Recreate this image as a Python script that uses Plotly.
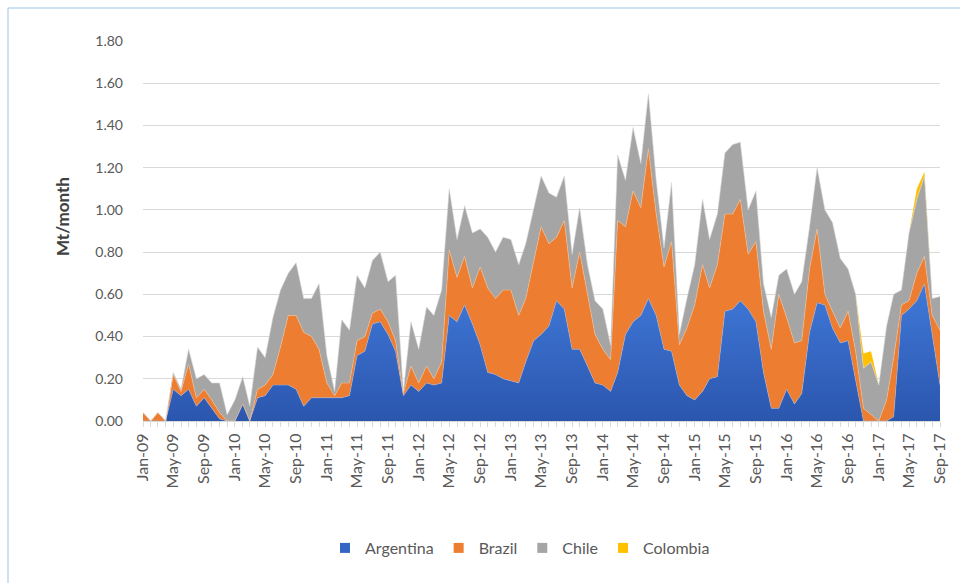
import plotly.graph_objects as go
import pandas as pd

# Categories: monthly, Jan-09 .. Sep-17
months = list(pd.date_range("2009-01-01", "2017-09-01", freq="MS"))
tick_months = months[::4]
tick_labels = [d.strftime("%b-%y") for d in tick_months]
y_title = "Mt/month"

# Series values (Mt/month)
argentina = [0, 0, 0, 0, 0.15, 0.12, 0.15, 0.07, 0.11, 0.06,
             0.01, 0, 0, 0.08, 0, 0.11, 0.12, 0.17, 0.17, 0.17,
             0.15, 0.07, 0.11, 0.11, 0.11, 0.11, 0.11, 0.12, 0.31, 0.33,
             0.46, 0.47, 0.41, 0.33, 0.12, 0.17, 0.14, 0.18, 0.17, 0.18,
             0.50, 0.47, 0.55, 0.46, 0.36, 0.23, 0.22, 0.20, 0.19, 0.18,
             0.28, 0.38, 0.41, 0.45, 0.57, 0.53, 0.34, 0.34, 0.26, 0.18,
             0.17, 0.14, 0.23, 0.41, 0.47, 0.50, 0.58, 0.50, 0.34, 0.33,
             0.17, 0.12, 0.10, 0.14, 0.20, 0.21, 0.52, 0.53, 0.57, 0.53,
             0.47, 0.23, 0.06, 0.06, 0.15, 0.08, 0.13, 0.42, 0.56, 0.55,
             0.44, 0.37, 0.38, 0.20, 0, 0, 0, 0, 0.02, 0.50,
             0.53, 0.57, 0.65, 0.40, 0.17]
brazil = [0.04, 0, 0.04, 0, 0.07, 0.02, 0.12, 0.04, 0.04, 0.04,
          0.03, 0, 0, 0, 0, 0.04, 0.05, 0.05, 0.18, 0.33,
          0.35, 0.35, 0.29, 0.23, 0.07, 0.01, 0.07, 0.06, 0.07, 0.07,
          0.05, 0.06, 0.06, 0.05, 0.01, 0.09, 0.04, 0.08, 0.03, 0.10,
          0.31, 0.21, 0.23, 0.17, 0.37, 0.40, 0.36, 0.42, 0.43, 0.32,
          0.30, 0.38, 0.51, 0.39, 0.30, 0.42, 0.29, 0.46, 0.34, 0.23,
          0.17, 0.15, 0.72, 0.51, 0.62, 0.51, 0.71, 0.48, 0.39, 0.52,
          0.19, 0.32, 0.45, 0.60, 0.43, 0.53, 0.46, 0.45, 0.48, 0.26,
          0.38, 0.29, 0.28, 0.54, 0.34, 0.29, 0.25, 0.30, 0.35, 0.05,
          0.08, 0.07, 0.14, 0.13, 0.06, 0.03, 0, 0.10, 0.28, 0.05,
          0.04, 0.13, 0.13, 0.10, 0.26]
chile = [0, 0, 0, 0, 0.01, 0.01, 0.07, 0.09, 0.07, 0.08,
         0.14, 0.03, 0.10, 0.13, 0.07, 0.20, 0.13, 0.27, 0.27, 0.20,
         0.25, 0.16, 0.18, 0.31, 0.13, 0.02, 0.30, 0.25, 0.31, 0.23,
         0.25, 0.27, 0.19, 0.31, 0.01, 0.21, 0.16, 0.28, 0.30, 0.34,
         0.29, 0.18, 0.24, 0.26, 0.18, 0.24, 0.22, 0.25, 0.24, 0.24,
         0.26, 0.24, 0.24, 0.24, 0.19, 0.21, 0.16, 0.21, 0.14, 0.16,
         0.19, 0.07, 0.31, 0.22, 0.30, 0.21, 0.26, 0.16, 0.09, 0.28,
         0.05, 0.14, 0.19, 0.31, 0.23, 0.24, 0.29, 0.33, 0.27, 0.21,
         0.24, 0.13, 0.15, 0.09, 0.23, 0.23, 0.28, 0.20, 0.29, 0.40,
         0.42, 0.33, 0.20, 0.27, 0.19, 0.25, 0.17, 0.35, 0.30, 0.07,
         0.32, 0.35, 0.38, 0.08, 0.16]
colombia = [0] * 94 + [0.07, 0.05, 0, 0, 0, 0, 0, 0.05, 0.02, 0, 0]

series = [
    ("Argentina", argentina, "#3A6BCB", "rgba(150,180,235,0.7)", "#3565C4"),
    ("Brazil", brazil, "#ED7D31", "rgba(250,190,140,0.8)", "#ED7D31"),
    ("Chile", chile, "#A5A5A5", "rgba(215,215,215,0.8)", "#A5A5A5"),
    ("Colombia", colombia, "#FFC000", "rgba(0,0,0,0)", "#FFC000"),
]

fig = go.Figure()
for name, vals, color, edge, legcolor in series:
    kw = {}
    if name == "Argentina":
        kw["fillgradient"] = dict(type="vertical",
                                  colorscale=[[0, "#2B56AE"], [1, "#4079D9"]])
    fig.add_trace(go.Scatter(
        x=months, y=vals, name=name, mode="lines", stackgroup="one",
        line=dict(width=0.7, color=edge), fillcolor=color,
        legendgroup=name, showlegend=False, **kw))
# legend keys (square swatches as in the original)
for name, vals, color, edge, legcolor in series:
    fig.add_trace(go.Scatter(
        x=[None], y=[None], name=name, mode="markers", legendgroup=name,
        marker=dict(symbol="square", size=10, color=legcolor)))

PL, PR, PT, PB = 143, 940, 41, 421
W, H = PR - PL, PB - PT

fig.update_layout(
    width=960, height=583,
    margin=dict(l=PL, r=960 - PR, t=PT, b=583 - PB),
    paper_bgcolor="white", plot_bgcolor="white",
    font=dict(family="Lato, Liberation Sans, sans-serif", size=14, color="#595959"),
    showlegend=True,
    legend=dict(orientation="h", x=(520 - PL) / W, xanchor="center",
                y=(PB - 548) / H, yanchor="middle",
                font=dict(size=16, color="#595959"), itemwidth=30,
                tracegroupgap=0, traceorder="normal"),
    shapes=[dict(type="rect", xref="paper", yref="paper",
                 x0=(8 - PL) / W, x1=1.2, y0=-1.0, y1=(PB - 8) / H,
                 line=dict(color="#9DC3E6", width=1), layer="below")],
    annotations=[dict(text="<b>" + y_title + "</b>", xref="paper", yref="paper",
                      x=(62 - PL) / W, y=(PB - 217) / H, showarrow=False,
                      textangle=-90, xanchor="center", yanchor="middle",
                      font=dict(size=17, color="#404040"))],
)
fig.update_xaxes(
    type="date", range=[months[0], months[-1]],
    tickmode="array", tickvals=tick_months, ticktext=tick_labels,
    tickangle=-90, ticks="outside", ticklen=5, tickcolor="#D9D9D9",
    minor=dict(ticks="outside", ticklen=5, tickcolor="#D9D9D9", dtick="M1",
               tick0="2009-01-01", showgrid=False),
    showgrid=False, showline=True, linecolor="#D9D9D9", linewidth=1,
    tickfont=dict(size=16, color="#595959"),
)
fig.update_yaxes(
    range=[0, 1.8], dtick=0.2, tick0=0, tickformat=".2f",
    showgrid=True, gridcolor="#D9D9D9", gridwidth=1, zeroline=False,
    showline=False, ticks="", ticklabelstandoff=19,
    tickfont=dict(size=14, color="#595959"),
)
fig.write_html("out.html", config={"displayModeBar": False},
               post_script="document.body.style.margin='0px';document.body.style.overflow='hidden';")
